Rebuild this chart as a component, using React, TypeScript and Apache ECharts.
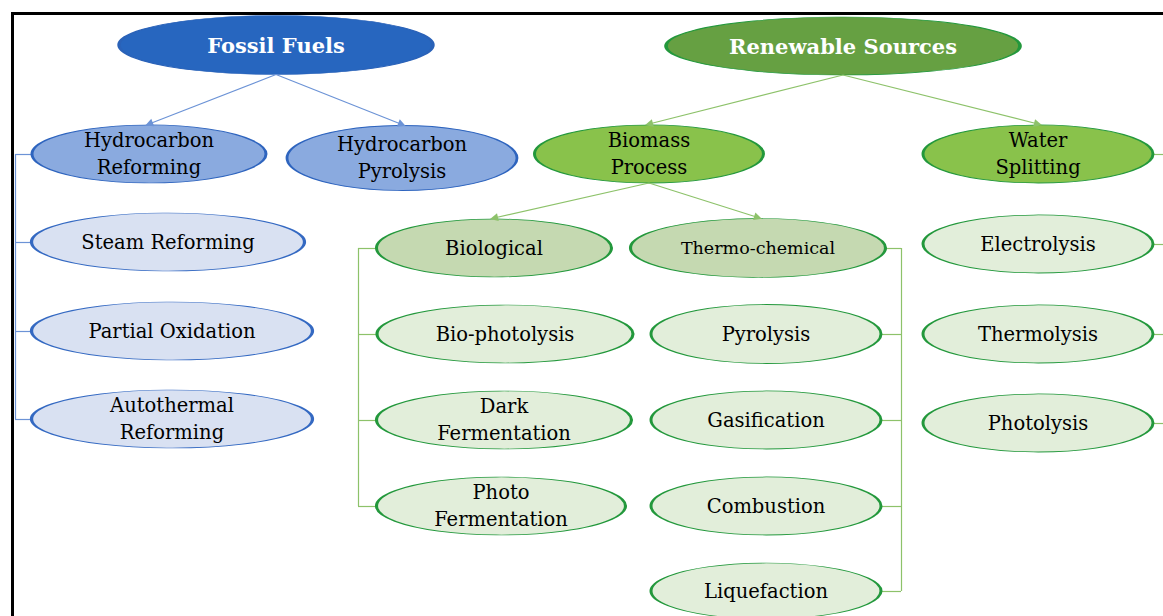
import React, { useEffect, useRef } from "react";
import * as echarts from "echarts";

const W = 1163;
const H = 616;

// Node labels
const rootLabels = ["Fossil Fuels", "Renewable Sources"];
const fossilRoutes = ["Hydrocarbon\nReforming", "Hydrocarbon\nPyrolysis"];
const renewableRoutes = ["Biomass\nProcess", "Water\nSplitting"];
const reformingTypes = ["Steam Reforming", "Partial Oxidation", "Autothermal\nReforming"];
const biomassTypes = ["Biological", "Thermo-chemical"];
const biologicalMethods = ["Bio-photolysis", "Dark\nFermentation", "Photo\nFermentation"];
const thermoMethods = ["Pyrolysis", "Gasification", "Combustion", "Liquefaction"];
const waterMethods = ["Electrolysis", "Thermolysis", "Photolysis"];

// Layout: [cx, cy, width, height]
const rootLayout = [[276, 45, 314, 59], [843, 46, 354, 58]];
const fossilLayout = [[149, 154, 234, 58], [402, 158, 230, 65]];
const renewableLayout = [[649, 154, 229, 58], [1038, 154, 230, 58]];
const reformingLayout = [[168, 242, 273, 58], [172, 331, 281, 58], [172, 419, 281, 58]];
const biomassLayout = [[494, 248, 235, 58], [758, 248, 255, 59]];
const biologicalLayout = [[505, 334, 256, 58], [504, 420, 255, 58], [501, 506, 249, 58]];
const thermoLayout = [[766, 334, 230, 59], [766, 420, 230, 58], [766, 506, 230, 58], [766, 591, 230, 56]];
const waterLayout = [[1038, 244, 230, 58], [1038, 334, 230, 58], [1038, 423, 230, 58]];

const STYLES: Record<string, any> = {
  rootBlue: { fill: "#2766BF", border: "#2A62B8", color: "#ffffff", weight: "bold", size: 21 },
  rootGreen: { fill: "#66A042", border: "#23983C", color: "#ffffff", weight: "bold", size: 21 },
  midBlue: { fill: "#8AAADF", border: "#2E64BE", color: "#000000", weight: "normal", size: 19.5 },
  midGreen: { fill: "#89C24B", border: "#23983C", color: "#000000", weight: "normal", size: 19.5 },
  lightBlue: { fill: "#D9E1F2", border: "#3469C2", color: "#000000", weight: "normal", size: 19.5 },
  subGreen: { fill: "#C5D9B1", border: "#23983C", color: "#000000", weight: "normal", size: 19.5 },
  lightGreen: { fill: "#E2EEDA", border: "#23983C", color: "#000000", weight: "normal", size: 19.5 },
};

const BLUE_LINE = "#6C93D6";
const GREEN_LINE = "#8DC26A";

function buildNodes(labels: string[], layout: number[][], style: string, sizeOverride?: Record<string, number>) {
  const s = STYLES[style];
  return labels.map((name, i) => {
    const [cx, cy, w, h] = layout[i];
    const fs = (sizeOverride && sizeOverride[name]) || s.size;
    return {
      name,
      value: [cx, cy],
      symbolSize: [w, h],
      itemStyle: { color: s.fill, borderColor: s.border, borderWidth: 1.5, opacity: 1 },
      label: {
        show: true,
        position: "inside",
        formatter: name,
        color: s.color,
        fontFamily: "DejaVu Serif",
        fontWeight: s.weight,
        fontSize: fs,
        lineHeight: 27,
      },
    };
  });
}

export default function App() {
  const ref = useRef<HTMLDivElement>(null);
  useEffect(() => {
    if (!ref.current) return;
    const chart = echarts.init(ref.current, undefined, { renderer: "svg" });

    const nodes = [
      ...buildNodes(rootLabels, rootLayout, "rootBlue").slice(0, 1),
      ...buildNodes(rootLabels, rootLayout, "rootGreen").slice(1),
      ...buildNodes(fossilRoutes, fossilLayout, "midBlue"),
      ...buildNodes(renewableRoutes, renewableLayout, "midGreen"),
      ...buildNodes(reformingTypes, reformingLayout, "lightBlue"),
      ...buildNodes(biomassTypes, biomassLayout, "subGreen", { "Thermo-chemical": 17.5 }),
      ...buildNodes(biologicalMethods, biologicalLayout, "lightGreen"),
      ...buildNodes(thermoMethods, thermoLayout, "lightGreen"),
      ...buildNodes(waterMethods, waterLayout, "lightGreen"),
    ];

    const bottom = (l: number[]) => [l[0], l[1] + l[3] / 2];
    const top = (l: number[]) => [l[0], l[1] - l[3] / 2 - 1];
    const right = (l: number[]) => [l[0] + l[2] / 2, l[1]];
    const left = (l: number[]) => [l[0] - l[2] / 2, l[1]];

    const arrowBlue = fossilLayout.map((l) => ({ coords: [bottom(rootLayout[0]), top(l)] }));
    const arrowGreen = [
      ...renewableLayout.map((l) => ({ coords: [bottom(rootLayout[1]), top(l)] })),
      ...biomassLayout.map((l) => ({ coords: [bottom(renewableLayout[0]), top(l)] })),
    ];

    // elbow connectors
    const blueX = 15;
    const blueElbows = [
      { coords: [[blueX, fossilLayout[0][1]], [blueX, reformingLayout[2][1]]] },
      { coords: [[blueX, fossilLayout[0][1]], left(fossilLayout[0])] },
      ...reformingLayout.map((l) => ({ coords: [[blueX, l[1]], left(l)] })),
    ];
    const bioX = 358;
    const thermoX = 901;
    const waterX = 1166;
    const greenElbows = [
      { coords: [[bioX, biomassLayout[0][1]], [bioX, biologicalLayout[2][1]]] },
      { coords: [[bioX, biomassLayout[0][1]], left(biomassLayout[0])] },
      ...biologicalLayout.map((l) => ({ coords: [[bioX, l[1]], left(l)] })),
      { coords: [[thermoX, biomassLayout[1][1]], [thermoX, thermoLayout[3][1]]] },
      { coords: [right(biomassLayout[1]), [thermoX, biomassLayout[1][1]]] },
      ...thermoLayout.map((l) => ({ coords: [right(l), [thermoX, l[1]]] })),
      { coords: [[waterX, renewableLayout[1][1]], [waterX, waterLayout[2][1]]] },
      { coords: [right(renewableLayout[1]), [waterX, renewableLayout[1][1]]] },
      ...waterLayout.map((l) => ({ coords: [right(l), [waterX, l[1]]] })),
    ];

    chart.setOption({
      animation: false,
      backgroundColor: "#ffffff",
      grid: { left: 0, right: 0, top: 0, bottom: 0 },
      xAxis: { type: "value", min: 0, max: W, show: false },
      yAxis: { type: "value", min: 0, max: H, inverse: true, show: false },
      graphic: [
        {
          type: "rect",
          shape: { x: 12.5, y: 13.5, width: 1300, height: 800 },
          style: { fill: "none", stroke: "#000000", lineWidth: 3 },
          z: 100,
        },
      ],
      series: [
        {
          type: "lines",
          coordinateSystem: "cartesian2d",
          z: 1,
          symbol: ["none", "none"],
          lineStyle: { color: BLUE_LINE, width: 1.2, opacity: 1 },
          data: blueElbows,
        },
        {
          type: "lines",
          coordinateSystem: "cartesian2d",
          z: 1,
          symbol: ["none", "none"],
          lineStyle: { color: GREEN_LINE, width: 1.2, opacity: 1 },
          data: greenElbows,
        },
        {
          type: "lines",
          coordinateSystem: "cartesian2d",
          z: 4,
          symbol: ["none", "triangle"],
          symbolSize: 8,
          lineStyle: { color: BLUE_LINE, width: 1.2, opacity: 1 },
          itemStyle: { color: "#3D6FC6" },
          data: arrowBlue,
        },
        {
          type: "lines",
          coordinateSystem: "cartesian2d",
          z: 4,
          symbol: ["none", "triangle"],
          symbolSize: 8,
          lineStyle: { color: GREEN_LINE, width: 1.2, opacity: 1 },
          itemStyle: { color: "#6AAA45" },
          data: arrowGreen,
        },
        {
          type: "scatter",
          z: 3,
          symbol: "circle",
          itemStyle: { opacity: 1 },
          data: nodes,
        },
      ],
    });
    return () => chart.dispose();
  }, []);
  return (
    <div
      ref={ref}
      style={{ position: "fixed", left: 0, top: 0, width: W, height: H, background: "#fff" }}
    />
  );
}
